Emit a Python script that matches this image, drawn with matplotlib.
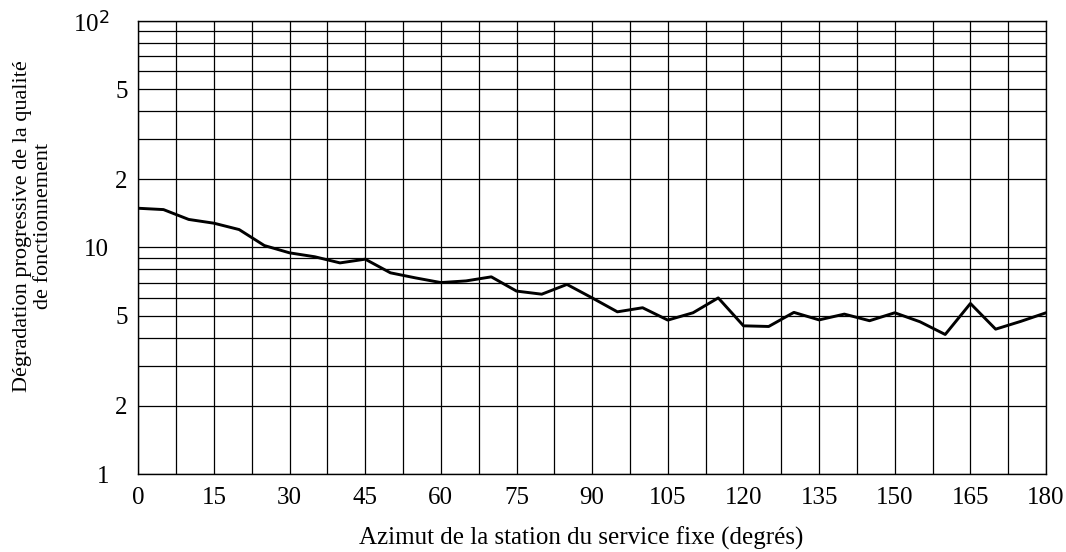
import numpy as np
from matplotlib import pyplot as plt
from matplotlib.ticker import FixedLocator, FixedFormatter

plt.rcParams['font.family'] = ['Liberation Serif', 'DejaVu Serif']
plt.rcParams['mathtext.default'] = 'regular'

# azimuth of the fixed-service station (degrees) and degradation
azimuth = [0, 5, 10, 15, 20, 25, 30, 35, 40, 45, 50, 55, 60, 65, 70, 75, 80, 85, 90,
           95, 100, 105, 110, 115, 120, 125, 130, 135, 140, 145, 150, 155, 160, 165,
           170, 175, 180]
degradation = [14.9, 14.7, 13.3, 12.8, 12.0, 10.2, 9.47, 9.1, 8.55, 8.88, 7.73, 7.34,
               7.0, 7.12, 7.42, 6.42, 6.22, 6.87, 5.99, 5.2, 5.42, 4.78, 5.15, 5.99,
               4.51, 4.48, 5.17, 4.79, 5.08, 4.75, 5.15, 4.70, 4.13, 5.66, 4.36, 4.72,
               5.15]

x_ticks = [0, 15, 30, 45, 60, 75, 90, 105, 120, 135, 150, 165, 180]
y_major = [1, 10, 100]
y_major_labels = ['1', '10', '$10^{\\mathsf{2}}$']
y_minor = [2, 3, 4, 5, 6, 7, 8, 9, 20, 30, 40, 50, 60, 70, 80, 90]
y_minor_labels = ['2', '', '', '5', '', '', '', '', '2', '', '', '5', '', '', '', '']

fig = plt.figure(figsize=(10.66, 5.52), dpi=100)
ax = fig.add_axes([0.1297, 0.1413, 0.8516, 0.8207])

ax.plot(azimuth, degradation, color='black', linewidth=2.1, zorder=3)

ax.set_yscale('log')
ax.set_xlim(0, 180)
ax.set_ylim(1, 100)

ax.xaxis.set_major_locator(FixedLocator(x_ticks))
ax.xaxis.set_minor_locator(FixedLocator(np.arange(7.5, 180, 15)))
ax.yaxis.set_major_locator(FixedLocator(y_major))
ax.yaxis.set_major_formatter(FixedFormatter(y_major_labels))
ax.yaxis.set_minor_locator(FixedLocator(y_minor))
ax.yaxis.set_minor_formatter(FixedFormatter(y_minor_labels))

ax.grid(True, which='both', color='black', linewidth=0.9)
ax.tick_params(which='both', length=0, labelsize=18)
ax.tick_params(axis='x', pad=9)
ax.tick_params(axis='y', which='major', pad=21)
ax.tick_params(axis='y', which='minor', pad=7.5)
for spine in ax.spines.values():
    spine.set_linewidth(1.0)

ax.set_xlabel('Azimut de la station du service fixe (degrés)', fontsize=18, labelpad=10)
ax.xaxis.set_label_coords(0.488, -0.115)
fig.text(33 / 1066, 1 - 226 / 552,
         'Dégradation progressive de la qualité\nde fonctionnement',
         rotation=90, ha='center', va='center', multialignment='center',
         fontsize=16, linespacing=1.15)

fig.savefig('out.png', dpi=100)
plt.close(fig)
